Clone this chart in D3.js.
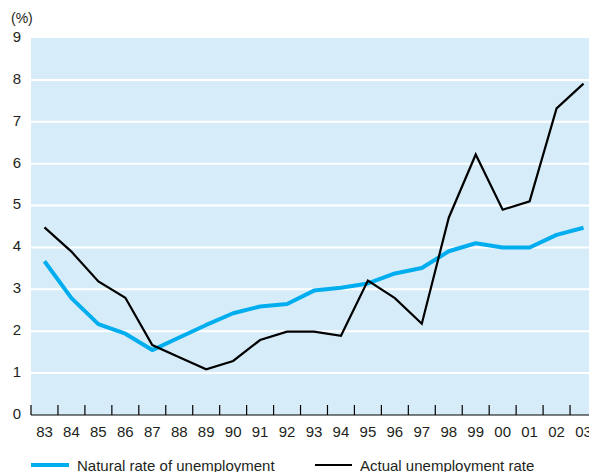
<!DOCTYPE html>
<html>
<head>
<meta charset="utf-8">
<script src="https://cdn.jsdelivr.net/npm/d3@7"></script>
<style>
  body { margin: 0; background: #fff; }
  svg { display: block; font-family: "Liberation Sans", Arial, sans-serif; }
</style>
</head>
<body>
<div id="chart"></div>
<script>
// datos
var years = ["83","84","85","86","87","88","89","90","91","92","93","94","95","96","97","98","99","00","01","02","03"];
var natural = [3.67, 2.79, 2.17, 1.94, 1.55, 1.85, 2.15, 2.43, 2.59, 2.65, 2.97, 3.04, 3.14, 3.38, 3.51, 3.91, 4.1, 4.0, 4.0, 4.3, 4.47];
var actual = [4.48, 3.9, 3.19, 2.8, 1.67, 1.38, 1.09, 1.29, 1.79, 1.99, 1.99, 1.89, 3.21, 2.79, 2.18, 4.71, 6.22, 4.9, 5.1, 7.32, 7.91];
var yTicks = [0, 1, 2, 3, 4, 5, 6, 7, 8, 9];
var seriesNames = ["Natural rate of unemployment", "Actual unemployment rate"];

var W = 589, H = 472,
    margin = {top: 38, right: -8, bottom: 57, left: 31},
    width = W - margin.left - margin.right,
    height = H - margin.top - margin.bottom;

var svg = d3.select("#chart").append("svg")
    .attr("width", W)
    .attr("height", H);

var g = svg.append("g").attr("transform", "translate(" + margin.left + "," + margin.top + ")");

var x = d3.scaleBand().domain(years).range([0, width]);
var y = d3.scaleLinear().domain([0, 9]).range([height, 0]);

// fondo
g.append("rect")
    .attr("width", width)
    .attr("height", height)
    .attr("fill", "#d6edf9");

// lineas de grilla
g.selectAll(".grid")
    .data(yTicks.filter(function (d) { return d > 0 && d < 9; }))
    .enter().append("line")
    .attr("x1", 0)
    .attr("x2", width)
    .attr("y1", function (d) { return y(d); })
    .attr("y2", function (d) { return y(d); })
    .attr("stroke", "#fff")
    .attr("stroke-width", 2);

// eje y (solo etiquetas)
g.selectAll(".ylab")
    .data(yTicks)
    .enter().append("text")
    .attr("x", -14)
    .attr("y", function (d) { return y(d); })
    .attr("dy", "0.26em")
    .attr("text-anchor", "middle")
    .attr("font-size", 15)
    .attr("fill", "#231f20")
    .text(function (d) { return d; });

svg.append("text")
    .attr("x", 11)
    .attr("y", 23)
    .attr("font-size", 14)
    .attr("fill", "#231f20")
    .text("(%)");

// eje x
var xAxis = g.append("g")
    .attr("transform", "translate(0," + height + ")");

xAxis.append("line")
    .attr("x1", 0)
    .attr("x2", width)
    .attr("stroke", "#000")
    .attr("stroke-width", 1.2);

xAxis.selectAll(".tick")
    .data(years)
    .enter().append("line")
    .attr("x1", function (d) { return x(d); })
    .attr("x2", function (d) { return x(d); })
    .attr("y1", 0)
    .attr("y2", -10)
    .attr("stroke", "#000")
    .attr("stroke-width", 1.2);

xAxis.selectAll(".xlab")
    .data(years)
    .enter().append("text")
    .attr("x", function (d) { return x(d) + x.bandwidth() / 2; })
    .attr("y", 22)
    .attr("text-anchor", "middle")
    .attr("font-size", 15)
    .attr("fill", "#231f20")
    .text(function (d) { return d; });

// lineas
var line = d3.line()
    .x(function (d, i) { return x(years[i]) + x.bandwidth() / 2; })
    .y(function (d) { return y(d); });

g.append("path")
    .datum(natural)
    .attr("fill", "none")
    .attr("stroke", "#00aeef")
    .attr("stroke-width", 4)
    .attr("stroke-linejoin", "round")
    .attr("d", line);

g.append("path")
    .datum(actual)
    .attr("fill", "none")
    .attr("stroke", "#000")
    .attr("stroke-width", 2.2)
    .attr("d", line);

// leyenda
var legend = svg.append("g")
    .selectAll("g")
    .data(seriesNames)
    .enter().append("g")
    .attr("transform", function (d, i) { return "translate(" + (i === 0 ? 31 : 315) + ",465)"; });

legend.append("line")
    .attr("x1", 0)
    .attr("x2", function (d, i) { return i === 0 ? 38 : 37; })
    .attr("stroke", function (d, i) { return i === 0 ? "#00aeef" : "#000"; })
    .attr("stroke-width", function (d, i) { return i === 0 ? 4 : 2.2; });

legend.append("text")
    .attr("x", function (d, i) { return i === 0 ? 46 : 45; })
    .attr("y", 5.5)
    .attr("font-size", 15)
    .attr("fill", "#231f20")
    .text(function (d) { return d; });
</script>
</body>
</html>
